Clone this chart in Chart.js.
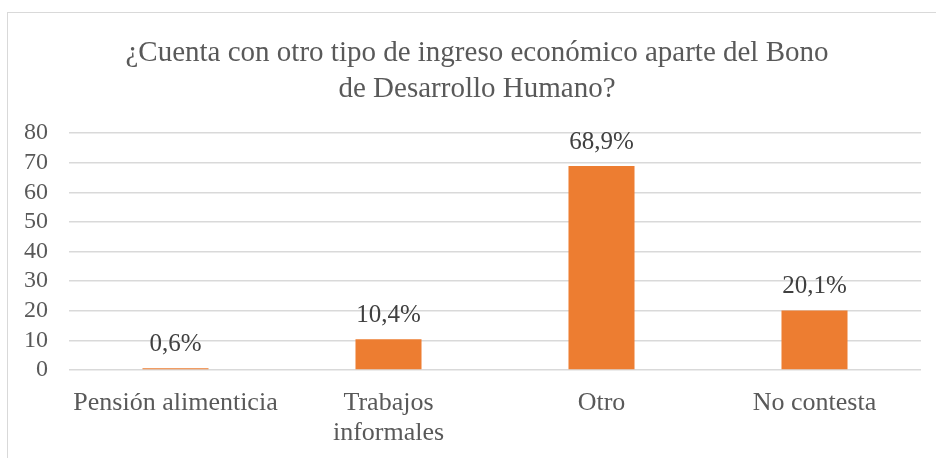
<!DOCTYPE html>
<html>
<head>
<meta charset="utf-8">
<script src="https://cdn.jsdelivr.net/npm/chart.js@4"></script>
<style>
  html, body { margin: 0; padding: 0; background: #fff; overflow: hidden; }
  #wrap { position: relative; width: 936px; height: 458px; }
  #frame { position: absolute; left: 7px; top: 12px; width: 960px; height: 480px; border: 1px solid #d9d9d9; pointer-events: none; }
</style>
</head>
<body>
<div id="wrap">
  <canvas id="chart" width="936" height="458"></canvas>
  <div id="frame"></div>
</div>
<script>
const categories = ['Pensión alimenticia', ['Trabajos', 'informales'], 'Otro', 'No contesta'];
const values = [0.6, 10.4, 68.9, 20.1];
const valueLabels = ['0,6%', '10,4%', '68,9%', '20,1%'];
const titleLines = ['¿Cuenta con otro tipo de ingreso económico aparte del Bono', 'de Desarrollo Humano?'];
const yMin = 0;
const yMax = 80;
const yStep = 10;

const FONT = "'Liberation Serif', 'Times New Roman', serif";

// title is centred on the whole frame, not on the plot, so it is drawn here
const frameTitle = {
  id: 'frameTitle',
  afterDraw(chart) {
    const ctx = chart.ctx;
    ctx.save();
    ctx.font = '29px ' + FONT;
    ctx.fillStyle = '#595959';
    ctx.textAlign = 'center';
    ctx.textBaseline = 'middle';
    titleLines.forEach((line, i) => {
      ctx.fillText(line, 477, 53 + i * 36);
    });
    ctx.restore();
  }
};

// draws the percentage above each bar
const barLabels = {
  id: 'barLabels',
  afterDatasetsDraw(chart) {
    const ctx = chart.ctx;
    const meta = chart.getDatasetMeta(0);
    ctx.save();
    ctx.font = '25px ' + FONT;
    ctx.fillStyle = '#404040';
    ctx.textAlign = 'center';
    ctx.textBaseline = 'alphabetic';
    meta.data.forEach((bar, i) => {
      ctx.fillText(valueLabels[i], bar.x, bar.y - 17);
    });
    ctx.restore();
  }
};

new Chart(document.getElementById('chart'), {
  type: 'bar',
  data: {
    labels: categories,
    datasets: [{
      data: values,
      backgroundColor: '#ED7D31',
      barPercentage: 0.31,
      categoryPercentage: 1
    }]
  },
  options: {
    responsive: false,
    animation: false,
    layout: { padding: { left: 0, right: 15, top: 133, bottom: 0 } },
    plugins: {
      legend: { display: false },
      tooltip: { enabled: false },
      title: { display: false }
    },
    scales: {
      x: {
        grid: { display: false, drawTicks: false },
        border: { display: false },
        ticks: {
          color: '#595959',
          font: { family: FONT, size: 26, lineHeight: 1.12 },
          padding: 19,
          maxRotation: 0,
          autoSkip: false
        },
        afterFit(scale) { scale.height = 88; }
      },
      y: {
        min: yMin,
        max: yMax,
        grid: { color: '#d9d9d9', lineWidth: 1.5, drawTicks: false },
        border: { display: false },
        ticks: {
          stepSize: yStep,
          autoSkip: false,
          color: '#595959',
          font: { family: FONT, size: 24 },
          padding: 21
        },
        afterFit(scale) { scale.width = 69; }
      }
    }
  },
  plugins: [barLabels, frameTitle]
});
</script>
</body>
</html>
